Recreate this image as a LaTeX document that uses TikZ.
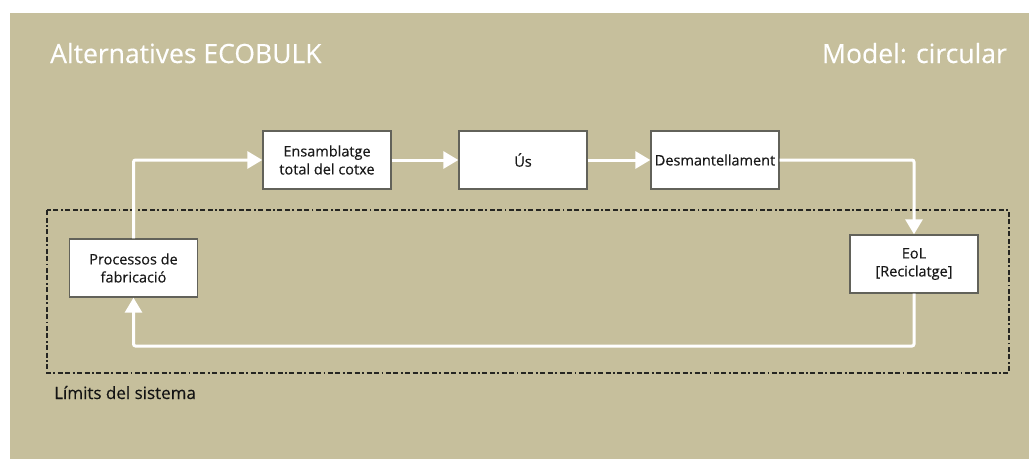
\documentclass[tikz,border=0pt]{standalone}
\usepackage{fontspec}
\setmainfont{Open Sans}[BoldFont=Open Sans, BoldFeatures={FakeBold=0.35}]
\usetikzlibrary{arrows.meta}
\definecolor{sand}{HTML}{C6BF9C}
\definecolor{boxedge}{HTML}{62625A}
\definecolor{limitline}{HTML}{262622}
\begin{document}
\begin{tikzpicture}[x=1pt,y=-1pt,
  stage/.style={draw=boxedge, line width=1.3pt, fill=white, minimum width=128pt,
    minimum height=58pt, inner sep=0pt, align=center,
    font=\fontsize{14.5}{18}\selectfont\bfseries, text=black!90},
  flow/.style={draw=white, line width=3pt, rounded corners=2pt,
    -{Triangle[length=15pt,width=17pt]}},
  boundary/.style={draw=limitline, line width=2.2pt,
    dash pattern=on 5pt off 2.5pt on 5pt off 2.5pt on 1.8pt off 2.5pt},
  heading/.style={text=white, font=\fontsize{26.5}{30}\selectfont\bfseries, inner sep=0pt},
  caption/.style={text=black!92, font=\fontsize{17}{20}\selectfont\bfseries, inner sep=0pt}]
  \useasboundingbox (0,0) rectangle (1029,459);
  % page and panel
  \fill[white] (0,0) rectangle (1029,459);
  \fill[sand] (10,13) rectangle (1029,459);

  % headings
  \node[heading, anchor=base west] (title) at (50,63) {Alternatives ECOBULK};
  \node[heading, anchor=base east] (model) at (1007,63) {Model: circular};

  % system boundary
  \draw[boundary] (47,210) rectangle (1009,373);
  \node[caption, anchor=base west] (limits) at (54,399) {Límits del sistema};

  % stages
  \node[stage] (ens) at (327,160) {Ensamblatge\\total del cotxe};
  \node[stage] (us) at (523,160) {Ús};
  \node[stage] (des) at (715,160) {Desmantellament};
  \node[stage] (proc) at (133.5,268) {Processos de\\fabricació};
  \node[stage] (eol) at (914,264) {EoL\\{[}Reciclatge{]}};

  % material flow
  \coordinate (loop) at (0,346);
  \draw[flow] (proc.north) |- (ens.west);
  \draw[flow] (ens.east) -- (us.west);
  \draw[flow] (us.east) -- (des.west);
  \draw[flow] (des.east) -| (eol.north);
  \draw[flow] (eol.south) |- (loop -| proc.south) -- (proc.south);
\end{tikzpicture}
\end{document}
